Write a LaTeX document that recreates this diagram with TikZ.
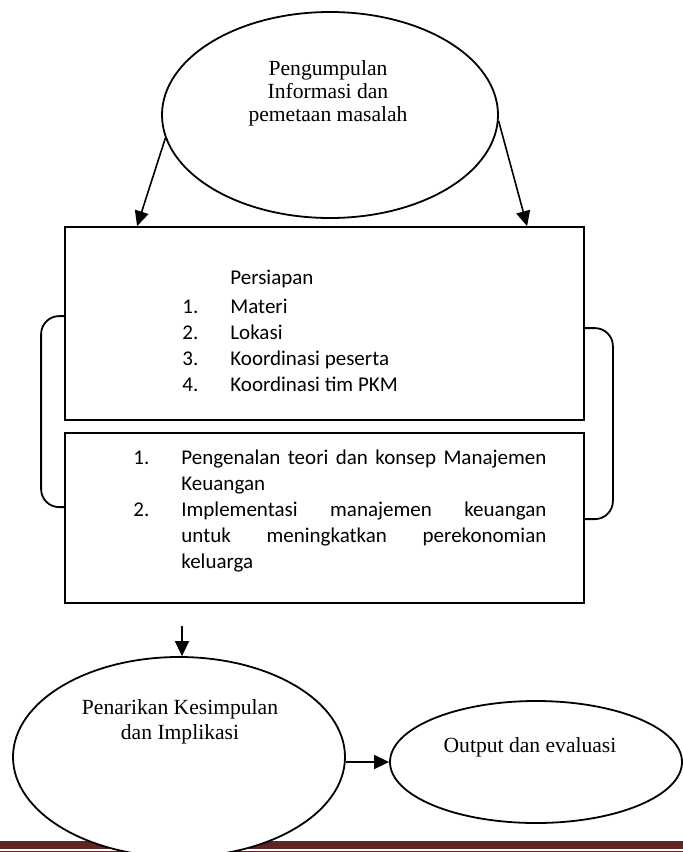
\documentclass[tikz,border=0pt]{standalone}
\usepackage{fontspec}
\setmainfont{Liberation Serif}
\newfontfamily\calibri{Carlito}
\usetikzlibrary{arrows.meta,shapes.geometric,calc}
\definecolor{footred}{RGB}{98,36,35}

\begin{document}
\begin{tikzpicture}[x=0.5pt,y=-0.5pt,
  oval/.style={ellipse,draw,line width=0.9pt,fill=white,inner sep=0pt},
  stagebox/.style={rectangle,draw,line width=0.9pt,minimum width=259.5pt,inner sep=0pt},
  flow/.style={-{Triangle[length=7.5pt,width=7pt]},line width=0.8pt},
  loopline/.style={line width=0.9pt,rounded corners=9pt},
  serif/.style={font=\fontsize{10.8}{11.5}\selectfont,align=center,inner sep=0pt},
  list/.style={font=\calibri\fontsize{10.5}{13}\selectfont,inner sep=0pt,anchor=north west}]
\useasboundingbox (0,0) rectangle (683,852);

% Footer rule
\fill[footred] (0,841) rectangle (683,849);
\draw[footred,line width=0.5pt] (0,851.5) -- (683,851.5);

% Top ellipse
\node[oval,minimum width=168pt,minimum height=103pt] (collect) at (330,115) {};
\node[serif] (collecttxt) at (328,93) {Pengumpulan\\Informasi dan\\pemetaan masalah};

% Boxes
\node[stagebox,minimum height=96.5pt] (prep) at (324.5,323.5) {};
\node[stagebox,minimum height=85pt] (impl) at (324.5,518) {};

\node[list] (preplist) at (182,265.8) {\begin{tabular}{@{}p{24pt}@{}l@{}}
 & Persiapan\\[1.5pt]
1. & Materi\\
2. & Lokasi\\
3. & Koordinasi peserta\\
4. & Koordinasi tim PKM
\end{tabular}};

\node[list] (impllist) at (133,445.8) {\begin{tabular}{@{}p{24pt}@{}l@{}}
1. & \makebox[182.5pt][s]{Pengenalan teori dan konsep Manajemen}\\
 & Keuangan\\
2. & \makebox[182.5pt][s]{Implementasi manajemen keuangan}\\
 & \makebox[182.5pt][s]{untuk meningkatkan perekonomian}\\
 & keluarga
\end{tabular}};

% Arrows from top ellipse
\coordinate (tipL) at ($(prep.north west)+(73,0)$);
\coordinate (tipR) at ($(prep.north west)+(463,0)$);
\draw[flow] (collect.188) -- (tipL);
\draw[flow] (collect.-2) -- (tipR);

% Loops between the boxes
\draw[loopline] ($(prep.north west)+(0,90)$) -- ++(-23,0) |- ($(impl.north west)+(0,75)$);
\draw[loopline] ($(prep.north east)+(0,102)$) -- ++(28,0) |- ($(impl.north east)+(0,87)$);

% Bottom ellipses
\node[oval,minimum width=166pt,minimum height=100pt] (concl) at (179,757) {};
\node[serif,font=\fontsize{10.8}{12.5}\selectfont] (concltxt) at (180,722) {Penarikan Kesimpulan\\dan Implikasi};
\node[oval,minimum width=146pt,minimum height=61pt] (outcome) at (536,762) {};
\node[serif] (outcometxt) at (530,747) {Output dan evaluasi};

\coordinate (down) at (182,626);
\draw[flow] (down) -- (down |- concl.north);
\draw[flow] (outcome.west -| concl.east) -- (outcome.west);
\end{tikzpicture}
\end{document}
